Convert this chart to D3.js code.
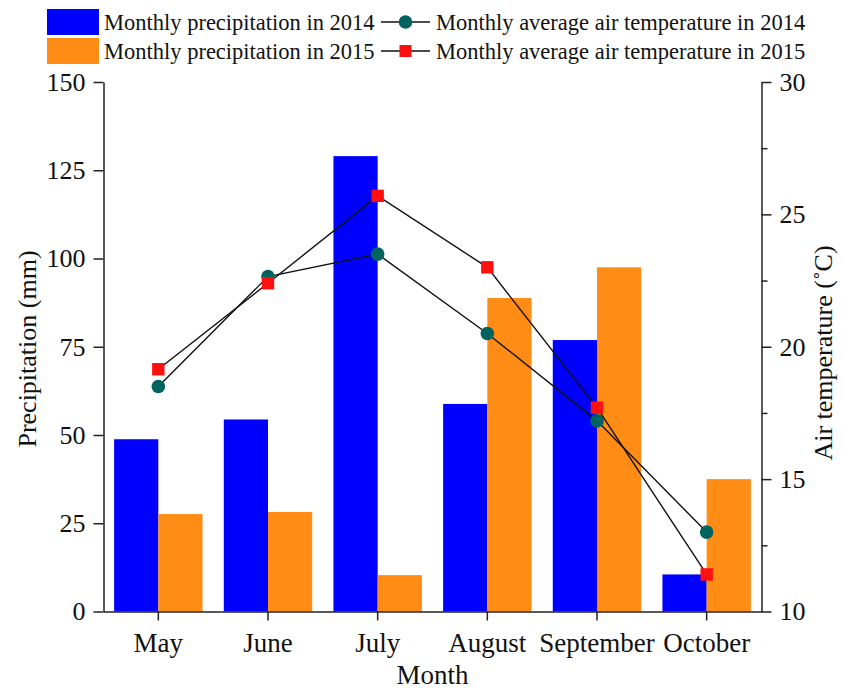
<!DOCTYPE html>
<html>
<head>
<meta charset="utf-8" />
<style>
  body { margin: 0; background: #ffffff; }
  text { font-family: "Liberation Serif", "Times New Roman", serif; fill: #111; }
  .axis path, .axis line { stroke: #222; stroke-width: 1.5; }
</style>
<script src="https://d3js.org/d3.v7.min.js"></script>
</head>
<body>
<div id="graph"></div>
<script>
  var months = ['May', 'June', 'July', 'August', 'September', 'October'];
  var years = ['2014', '2015'];
  var precip2014 = [48.8, 54.4, 129.0, 58.8, 76.9, 10.5];
  var precip2015 = [27.6, 28.2, 10.3, 88.8, 97.5, 37.5];
  var temp2014 = [18.5, 22.65, 23.5, 20.5, 17.2, 13.0];
  var temp2015 = [19.15, 22.4, 25.7, 23.0, 17.7, 11.4];
  var precipTicks = [0, 25, 50, 75, 100, 125, 150];
  var tempTicks = [10, 15, 20, 25, 30];
  var tempMinor = [12.5, 17.5, 22.5, 27.5];

  var w = 845, h = 691;
  var pLeft = 103.5, pRight = 761.5, pTop = 82, pBottom = 611.5;

  var svg = d3.select('#graph').append('svg')
    .attr('width', w)
    .attr('height', h);

  var x0 = d3.scaleBand().domain(months).range([pLeft, pRight]).padding(0);
  var x1 = d3.scaleBand().domain(years).range([0, x0.bandwidth()])
    .paddingInner(0).paddingOuter(0.24);
  var yL = d3.scaleLinear().domain([0, 150]).range([pBottom, pTop]);
  var yR = d3.scaleLinear().domain([10, 30]).range([pBottom, pTop]);

  var barColor = { '2014': '#0000ff', '2015': '#ff8c14' };
  var precip = { '2014': precip2014, '2015': precip2015 };

  // bars
  years.forEach(function (yr) {
    svg.append('g').selectAll('rect')
      .data(months)
      .enter().append('rect')
      .attr('x', function (m) { return x0(m) + x1(yr); })
      .attr('width', x1.bandwidth())
      .attr('y', function (m, i) { return yL(precip[yr][i]); })
      .attr('height', function (m, i) { return pBottom - yL(precip[yr][i]); })
      .attr('fill', barColor[yr]);
  });

  var cx = function (m) { return x0(m) + x0.bandwidth() / 2; };

  // temperature lines
  var line = d3.line()
    .x(function (d) { return cx(d.m); })
    .y(function (d) { return yR(d.v); });

  [temp2014, temp2015].forEach(function (arr) {
    svg.append('path')
      .datum(months.map(function (m, i) { return { m: m, v: arr[i] }; }))
      .attr('fill', 'none')
      .attr('stroke', '#111')
      .attr('stroke-width', 1.4)
      .attr('d', line);
  });

  svg.append('g').selectAll('circle')
    .data(months)
    .enter().append('circle')
    .attr('cx', cx)
    .attr('cy', function (m, i) { return yR(temp2014[i]); })
    .attr('r', 6.8)
    .attr('fill', '#006360');

  svg.append('g').selectAll('rect')
    .data(months)
    .enter().append('rect')
    .attr('x', function (m) { return cx(m) - 6.2; })
    .attr('y', function (m, i) { return yR(temp2015[i]) - 6.2; })
    .attr('width', 12.4)
    .attr('height', 12.4)
    .attr('fill', '#ff1010');

  // axes
  var axL = svg.append('g').attr('class', 'axis')
    .attr('transform', 'translate(' + pLeft + ',0)')
    .call(d3.axisLeft(yL).tickValues(precipTicks).tickSize(10).tickSizeOuter(0).tickPadding(8));
  axL.selectAll('text').style('font-size', '26px');

  var axR = svg.append('g').attr('class', 'axis')
    .attr('transform', 'translate(' + pRight + ',0)')
    .call(d3.axisRight(yR).tickValues(tempTicks).tickSize(10).tickSizeOuter(0).tickPadding(8));
  axR.selectAll('text').style('font-size', '26px');

  svg.append('g').attr('class', 'axis')
    .attr('transform', 'translate(' + pRight + ',0)')
    .call(d3.axisRight(yR).tickValues(tempMinor).tickSize(6).tickSizeOuter(0).tickFormat(''))
    .select('.domain').remove();

  var axB = svg.append('g').attr('class', 'axis')
    .attr('transform', 'translate(0,' + pBottom + ')')
    .call(d3.axisBottom(x0).tickSize(9).tickSizeOuter(0).tickPadding(12));
  axB.selectAll('text').style('font-size', '27px');
  svg.selectAll('.axis text').attr('fill', '#111').style('font-family', '"Liberation Serif", "Times New Roman", serif');

  // axis titles
  svg.append('text')
    .attr('x', (pLeft + pRight) / 2)
    .attr('y', 684)
    .attr('text-anchor', 'middle')
    .style('font-size', '27px')
    .text('Month');

  svg.append('text')
    .attr('transform', 'translate(36,349) rotate(-90)')
    .attr('text-anchor', 'middle')
    .style('font-size', '26px')
    .text('Precipitation (mm)');

  svg.append('text')
    .attr('transform', 'translate(832,353) rotate(-90)')
    .attr('text-anchor', 'middle')
    .style('font-size', '26px')
    .text('Air temperature (\u02DAC)');

  // legend
  var legend = svg.append('g').attr('id', 'legend');
  var rows = [
    { bar: '2014', label: 'Monthly precipitation in 2014', tlabel: 'Monthly average air temperature in 2014' },
    { bar: '2015', label: 'Monthly precipitation in 2015', tlabel: 'Monthly average air temperature in 2015' }
  ];
  rows.forEach(function (r, i) {
    var yTop = 9 + i * 29;
    var yc = yTop + 13;
    legend.append('rect')
      .attr('x', 47).attr('y', yTop)
      .attr('width', 52).attr('height', 26)
      .attr('fill', barColor[r.bar]);
    legend.append('text')
      .attr('x', 104).attr('y', yc + 8)
      .style('font-size', '22.5px')
      .text(r.label);
    legend.append('line')
      .attr('x1', 381).attr('x2', 430)
      .attr('y1', yc).attr('y2', yc)
      .attr('stroke', '#111').attr('stroke-width', 1.4);
    if (i === 0) {
      legend.append('circle').attr('cx', 405.5).attr('cy', yc).attr('r', 6.8).attr('fill', '#006360');
    } else {
      legend.append('rect').attr('x', 399.5).attr('y', yc - 6).attr('width', 12).attr('height', 12).attr('fill', '#ff1010');
    }
    legend.append('text')
      .attr('x', 436).attr('y', yc + 8)
      .style('font-size', '22.5px')
      .text(r.tlabel);
  });
</script>
</body>
</html>
